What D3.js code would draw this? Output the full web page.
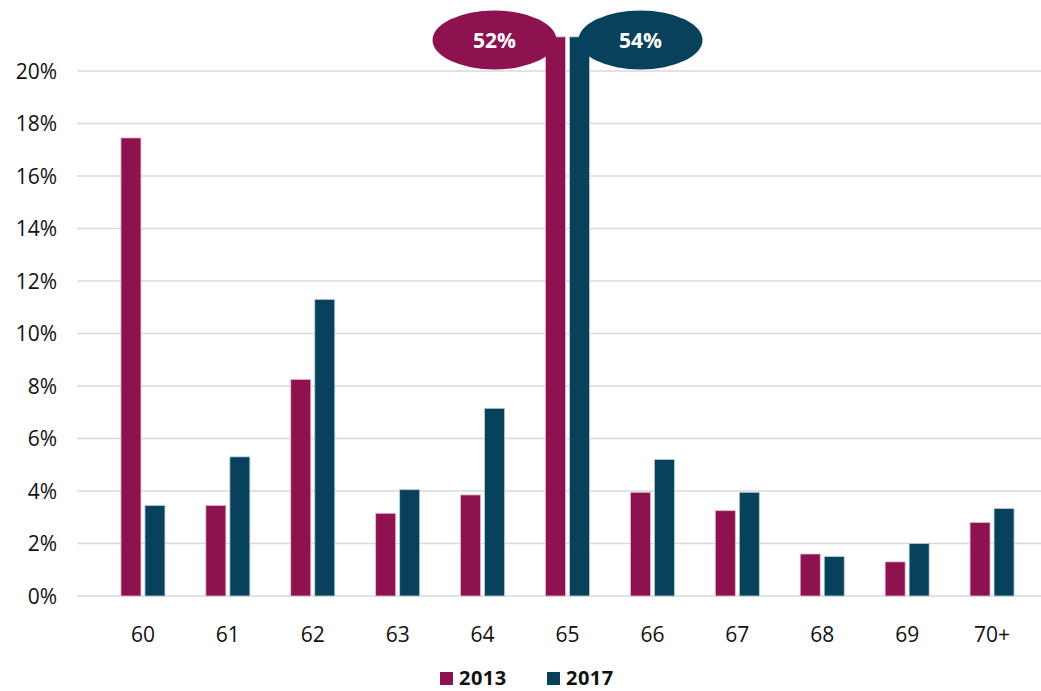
<!DOCTYPE html>
<html>
<head>
<meta charset="utf-8">
<script src="https://cdn.jsdelivr.net/npm/d3@7"></script>
<style>
  body { margin: 0; background: #fff; }
  svg text { font-family: "Open Sans", "Lato", sans-serif; fill: #111; }
</style>
</head>
<body>
<svg id="chart" width="1041" height="691"></svg>
<script>
var ages = ["60", "61", "62", "63", "64", "65", "66", "67", "68", "69", "70+"];
var share2013 = [17.45, 3.45, 8.25, 3.15, 3.85, 52, 3.95, 3.25, 1.6, 1.3, 2.8];
var share2017 = [3.45, 5.3, 11.3, 4.05, 7.15, 54, 5.2, 3.95, 1.5, 2.0, 3.33];
var yTicks = [0, 2, 4, 6, 8, 10, 12, 14, 16, 18, 20];
var seriesNames = ["2013", "2017"];
var colors = ["#8e1150", "#08415b"];
var capValue = 21.3; // bars taller than this are broken at the top

var svg = d3.select("#chart");

var x = d3.scaleBand().domain(ages).range([100.5, 1034.5]);
var y = d3.scaleLinear().domain([0, 20]).range([596, 71]);
var barW = 20, gap = 4;

// grid
svg.append("g").selectAll("line")
  .data(yTicks)
  .enter().append("line")
  .attr("x1", 77).attr("x2", 1041)
  .attr("y1", function (d) { return y(d); })
  .attr("y2", function (d) { return y(d); })
  .attr("stroke", "#d9d9d9")
  .attr("stroke-width", 1.5);

// y labels
svg.append("g").selectAll("text")
  .data(yTicks)
  .enter().append("text")
  .attr("x", 57)
  .attr("y", function (d) { return y(d); })
  .attr("dy", "0.36em")
  .attr("text-anchor", "end")
  .style("font-size", "21px")
  .text(function (d) { return d + "%"; });

// x labels
svg.append("g").selectAll("text")
  .data(ages)
  .enter().append("text")
  .attr("x", function (d) { return x(d) + x.bandwidth() / 2; })
  .attr("y", 642)
  .attr("text-anchor", "middle")
  .style("font-size", "21px")
  .text(function (d) { return d; });

var series = [share2013, share2017];

series.forEach(function (vals, s) {
  var g = svg.append("g");
  g.selectAll("rect")
    .data(vals)
    .enter().append("rect")
    .attr("x", function (d, i) {
      var c = x(ages[i]) + x.bandwidth() / 2;
      return s == 0 ? c - gap / 2 - barW : c + gap / 2;
    })
    .attr("y", function (d) { return y(Math.min(d, capValue)); })
    .attr("width", barW)
    .attr("height", function (d) { return y(0) - y(Math.min(d, capValue)); })
    .attr("fill", colors[s])
    .attr("stroke", s == 0 ? "#e8b9cf" : "#b7cfd9")
    .attr("stroke-width", 0.8);

  // callouts for capped bars
  vals.forEach(function (d, i) {
    if (d <= capValue) return;
    var c = x(ages[i]) + x.bandwidth() / 2;
    var bc = s == 0 ? c - gap / 2 - barW / 2 : c + gap / 2 + barW / 2;
    var ex = s == 0 ? bc - 61 : bc + 61;
    g.append("ellipse")
      .attr("cx", ex).attr("cy", 40)
      .attr("rx", 62).attr("ry", 29.5)
      .attr("fill", colors[s]);
    g.append("text")
      .attr("x", ex).attr("y", 40)
      .attr("dy", "0.36em")
      .attr("text-anchor", "middle")
      .style("font-size", "21px")
      .style("font-weight", "bold")
      .style("fill", "#fff")
      .text(d + "%");
  });
});

// legend
var legendX = [440, 547];
seriesNames.forEach(function (name, s) {
  svg.append("rect")
    .attr("x", legendX[s]).attr("y", 672)
    .attr("width", 13).attr("height", 13)
    .attr("fill", colors[s]);
  svg.append("text")
    .attr("x", legendX[s] + 19).attr("y", 685)
    .style("font-size", "20px")
    .style("font-weight", "bold")
    .style("letter-spacing", "0.5px")
    .text(name);
});
</script>
</body>
</html>
